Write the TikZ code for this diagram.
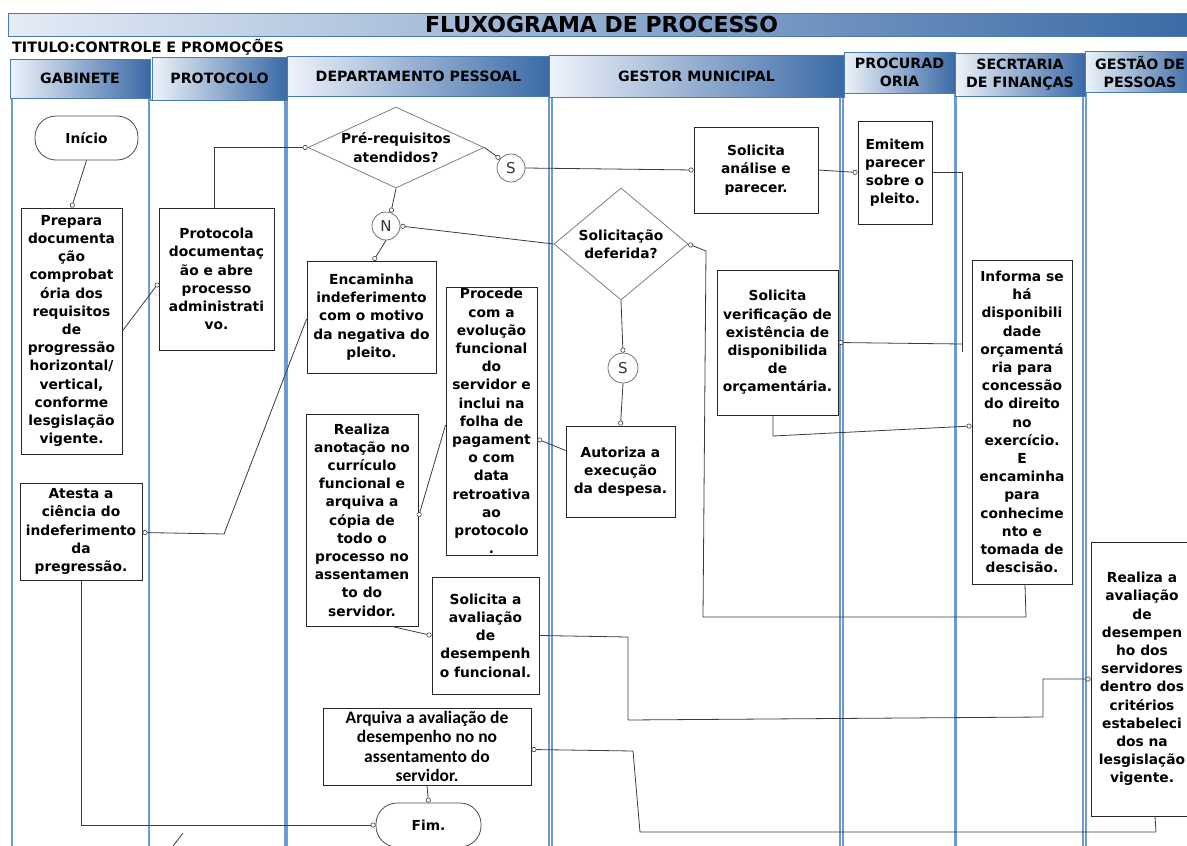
\documentclass[tikz,border=0pt]{standalone}
\usepackage{fontspec}
\setmainfont{DejaVu Sans}
\newfontfamily\narrowfont{Carlito}
\usetikzlibrary{arrows.meta,shapes.geometric,calc}

\definecolor{lanecol}{RGB}{108,155,210}
\definecolor{hdrline}{RGB}{74,124,186}
\definecolor{hdrlight}{RGB}{238,243,250}
\definecolor{hdrmid}{RGB}{186,207,232}
\definecolor{hdrdark}{RGB}{58,105,166}
\definecolor{wire}{RGB}{60,60,60}

\begin{document}
\begin{tikzpicture}[x=1pt,y=-1pt,
  lane/.style={draw=lanecol, line width=1.1pt},
  hdr/.style={draw=hdrline, line width=1pt, left color=hdrlight, middle color=hdrmid,
    right color=hdrdark, align=center, inner sep=0pt,
    font=\fontsize{14.2}{18}\selectfont\bfseries},
  box/.style={rectangle, draw=black!85, line width=0.9pt, fill=white, align=center,
    inner sep=0pt, font=\fontsize{13.8}{18.2}\selectfont\bfseries},
  term/.style={box, rounded corners=21pt, draw=black!70, line width=0.8pt},
  decision/.style={diamond, draw=black!50, line width=0.8pt, fill=white, inner sep=0pt},
  dlabel/.style={align=center, font=\fontsize{13.8}{18.2}\selectfont\bfseries},
  joint/.style={circle, draw=black!55, line width=0.8pt, fill=white, minimum size=28pt,
    inner sep=0pt, text=black!80, font=\fontsize{15}{15}\selectfont},
  wirel/.style={draw=wire, line width=0.8pt},
  conn/.style={wirel, -{Circle[length=5pt,width=5pt,fill=white,line width=0.6pt]}}
]
\useasboundingbox (0,0) rectangle (1187,846);
\clip (0,0) rectangle (1187,846);
\fill[white] (0,0) rectangle (1187,846);

% swimlane bodies
\draw[lane] (12,98) rectangle (149,870);
\draw[lane] (149,100) rectangle (285,870);
\draw[lane] (287,96) rectangle (549,870);
\draw[lane] (552,97) rectangle (840,870);
\draw[lane] (843,93) rectangle (955,870);
\draw[lane] (956,96) rectangle (1083,870);
\draw[lane] (1086,92) rectangle (1210,870);

% title bar and subtitle
\node[hdr, minimum width=1187, minimum height=23, font=\fontsize{22}{24}\selectfont\bfseries,
  left color={rgb,255:red,228;green,236;blue,246}, middle color={rgb,255:red,150;green,182;blue,218},
  right color={rgb,255:red,58;green,106;blue,166}] (title) at (601.5,24.5) {FLUXOGRAMA DE PROCESSO};
\node[anchor=west, inner sep=0pt, font=\fontsize{14.3}{16}\selectfont\bfseries] (subtitle) at (12,47.5)
  {TITULO:CONTROLE E PROMOÇÕES};

% lane headers
\node[hdr, minimum width=140, minimum height=39] (hgab) at (80,78.5) {GABINETE};
\node[hdr, minimum width=135, minimum height=43] (hprot) at (219.5,78.5) {PROTOCOLO};
\node[hdr, minimum width=263, minimum height=40] (hdp) at (418.5,76) {DEPARTAMENTO PESSOAL};
\node[hdr, minimum width=295, minimum height=42] (hgm) at (696.5,76) {GESTOR MUNICIPAL};
\node[hdr, minimum width=111, minimum height=41] (hproc) at (899.5,72.5) {PROCURAD\\ORIA};
\node[hdr, minimum width=130, minimum height=43] (hsec) at (1020,74.5) {SECRTARIA\\DE FINANÇAS};
\node[hdr, minimum width=110, minimum height=41] (hgp) at (1140,71.5) {GESTÃO DE\\PESSOAS};

% gabinete
\node[term, minimum width=103, minimum height=44] (inicio) at (86.5,138) {Início};
\node[box, minimum width=101, minimum height=246] (prepara) at (71.5,331)
  {Prepara\\documenta\\ção\\comprobat\\ória dos\\requisitos\\de\\progressão\\horizontal/\\vertical,\\conforme\\lesgislação\\vigente.};
\node[box, minimum width=122, minimum height=97] (atesta) at (81,531.5)
  {Atesta a\\ciência do\\indeferimento\\da\\pregressão.};

% protocolo
\node[box, minimum width=115, minimum height=142] (protocola) at (216.5,279)
  {Protocola\\documentaç\\ão e abre\\processo\\administrati\\vo.};

% departamento pessoal
\node[decision, minimum width=176, minimum height=81,
  label={[dlabel]center:Pré-requisitos\\atendidos?}] (prereq) at (396,147.5) {};
\node[joint] (s1) at (511,168) {S};
\node[joint] (n) at (386,226) {N};
\node[box, minimum width=129, minimum height=112] (encaminha) at (371.5,317)
  {Encaminha\\indeferimento\\com o motivo\\da negativa do\\pleito.};
\node[box, minimum width=91, minimum height=268] (procede) at (491.5,421)
  {Procede\\com a\\evolução\\funcional\\do\\servidor e\\inclui na\\folha de\\pagament\\o com\\data\\retroativa\\ao\\protocolo\\.};
\node[box, minimum width=112, minimum height=212] (realizaanot) at (362,520)
  {Realiza\\anotação no\\currículo\\funcional e\\arquiva a\\cópia de\\todo o\\processo no\\assentamen\\to do\\servidor.};
\node[box, minimum width=107, minimum height=117] (solavaliacao) at (485.5,635.5)
  {Solicita a\\avaliação\\de\\desempenh\\o funcional.};
\node[box, minimum width=208, minimum height=77, font=\narrowfont\fontsize{17.5}{19.3}\selectfont\bfseries]
  (arquiva) at (427,746.5)
  {Arquiva a avaliação de\\desempenho no no\\assentamento do\\servidor.};
\node[term, minimum width=105, minimum height=44] (fim) at (428.5,825) {Fim.};

% gestor municipal
\node[box, minimum width=124, minimum height=86] (solanalise) at (756,170)
  {Solicita\\análise e\\parecer.};
\node[decision, minimum width=134, minimum height=112,
  label={[dlabel]center:Solicitação\\deferida?}] (soldeferida) at (621,244) {};
\node[joint, minimum size=30pt] (s2) at (623,368) {S};
\node[box, minimum width=109, minimum height=91] (autoriza) at (620.5,471.5)
  {Autoriza a\\execução\\da despesa.};
\node[box, minimum width=121, minimum height=145] (solverif) at (777.5,342.5)
  {Solicita\\verificação de\\existência de\\disponibilida\\de\\orçamentária.};

% procuradoria
\node[box, minimum width=74, minimum height=103] (emitem) at (895,172.5)
  {Emitem\\parecer\\sobre o\\pleito.};

% secretaria de financas
\node[box, minimum width=100, minimum height=324] (informa) at (1022,422)
  {Informa se\\há\\disponibili\\dade\\orçamentá\\ria para\\concessão\\do direito\\no\\exercício.\\E\\encaminha\\para\\conhecime\\nto e\\tomada de\\descisão.};

% gestao de pessoas
\node[box, minimum width=102, minimum height=274] (realizaaval) at (1142,679)
  {Realiza a\\avaliação\\de\\desempen\\ho dos\\servidores\\dentro dos\\critérios\\estabeleci\\dos na\\lesgislação\\vigente.};

% bend points of the routed connectors
\coordinate (b1) at (224,534);
\coordinate (b2) at (962,352);
\coordinate (b3) at (962,344);
\coordinate (b4) at (773,436);
\coordinate (b5) at (1026,617);
\coordinate (b6) at (703,617);
\coordinate (b7) at (706,251);
\coordinate (b8) at (628,637);
\coordinate (b9) at (628,720);
\coordinate (b10) at (1043,717);
\coordinate (b11) at (1043,679);
\coordinate (b12) at (1156,832);
\coordinate (b13) at (640,832);
\coordinate (b14) at (633,751);
\coordinate (e1) at (170,850);
\coordinate (e2) at (183,833);

% connectors
\draw[conn] (inicio.south) -- (prepara.north);
\draw[conn] (prepara.east) -- ($(protocola.west)+(0,4)$);
\draw[conn] ($(protocola.north)+(-2,0)$) |- (prereq.west);
\draw[conn] (prereq.east) -- (s1.140);
\draw[conn] (s1.east) -- (solanalise.west);
\draw[conn] (prereq.south) -- (n.70);
\draw[conn] (soldeferida.west) -- (n.east);
\draw[conn] (n.south) -- ($(encaminha.north)+(2,0)$);
\draw[conn] ($(encaminha.west)+(0,2)$) -- (b1) -- ($(atesta.east)+(0,1)$);
\draw[conn] (solanalise.east) -- (emitem.west);
\draw[wirel] (emitem.east) -| (b2);
\draw[conn] (b3) -- (solverif.east);
\draw[conn] ($(solverif.south)+(-4.5,0)$) -- (b4) -- ($(informa.west)+(0,4)$);
\draw[conn] ($(informa.south)+(3,0)$) -- (b5) -- (b6) -- (b7) -- (soldeferida.east);
\draw[conn] (soldeferida.south) -- (s2.north);
\draw[conn] (s2.south) -- (autoriza.north);
\draw[conn] ($(autoriza.west)+(0,-21)$) -- ($(procede.east)+(0,18)$);
\draw[conn] ($(procede.west)+(0,4)$) -- ($(realizaanot.east)+(0,-3)$);
\draw[conn] ($(realizaanot.south)+(30,0)$) -- (solavaliacao.west);
\draw[conn] (solavaliacao.east) -- (b8) -- (b9) -- (b10) -- (b11) -- (realizaaval.west);
\draw[conn] ($(realizaaval.south)+(13,0)$) -- (b12) -- (b13) -- (b14) -- ($(arquiva.east)+(0,3)$);
\draw[conn] (arquiva.south) -- (fim.north);
\draw[conn] (atesta.south) |- (fim.west);
\draw[wirel] (e1) -- (e2);
\end{tikzpicture}
\end{document}
